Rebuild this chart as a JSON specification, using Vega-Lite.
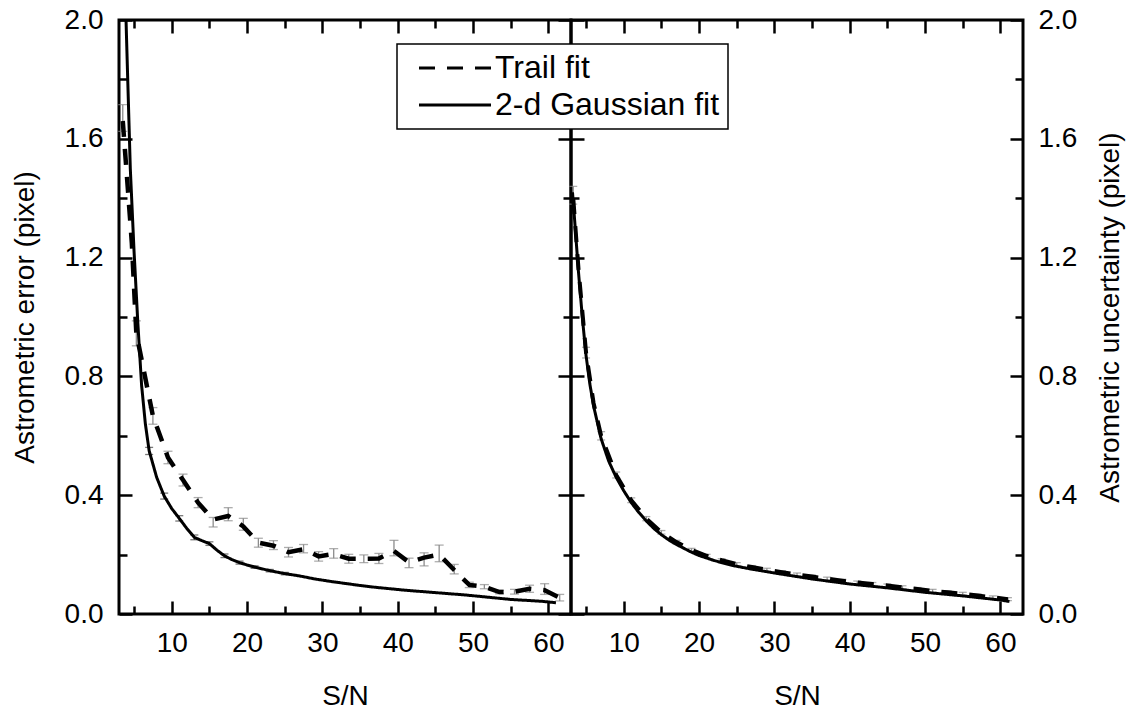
{
  "$schema": "https://vega.github.io/schema/vega-lite/v6.json",
  "padding": {"left": 9, "top": 4, "right": 5, "bottom": 5},
  "background": "white",
  "spacing": 0,
  "bounds": "flush",
  "datasets": {
    "lines": [
      {"p":"L","s":"2-d Gaussian fit","sn":3,"v":2.9},
      {"p":"L","s":"2-d Gaussian fit","sn":3.5,"v":2.4},
      {"p":"L","s":"2-d Gaussian fit","sn":4,"v":1.94},
      {"p":"L","s":"2-d Gaussian fit","sn":4.5,"v":1.5},
      {"p":"L","s":"2-d Gaussian fit","sn":5,"v":1.22},
      {"p":"L","s":"2-d Gaussian fit","sn":5.5,"v":0.98},
      {"p":"L","s":"2-d Gaussian fit","sn":6,"v":0.77},
      {"p":"L","s":"2-d Gaussian fit","sn":6.5,"v":0.64},
      {"p":"L","s":"2-d Gaussian fit","sn":7,"v":0.55},
      {"p":"L","s":"2-d Gaussian fit","sn":8,"v":0.46},
      {"p":"L","s":"2-d Gaussian fit","sn":9,"v":0.397},
      {"p":"L","s":"2-d Gaussian fit","sn":10,"v":0.355},
      {"p":"L","s":"2-d Gaussian fit","sn":11,"v":0.322},
      {"p":"L","s":"2-d Gaussian fit","sn":12,"v":0.288},
      {"p":"L","s":"2-d Gaussian fit","sn":13,"v":0.258},
      {"p":"L","s":"2-d Gaussian fit","sn":14,"v":0.247},
      {"p":"L","s":"2-d Gaussian fit","sn":15,"v":0.237},
      {"p":"L","s":"2-d Gaussian fit","sn":16,"v":0.215},
      {"p":"L","s":"2-d Gaussian fit","sn":17,"v":0.196},
      {"p":"L","s":"2-d Gaussian fit","sn":18,"v":0.183},
      {"p":"L","s":"2-d Gaussian fit","sn":19,"v":0.173},
      {"p":"L","s":"2-d Gaussian fit","sn":20,"v":0.165},
      {"p":"L","s":"2-d Gaussian fit","sn":21,"v":0.158},
      {"p":"L","s":"2-d Gaussian fit","sn":23,"v":0.146},
      {"p":"L","s":"2-d Gaussian fit","sn":25,"v":0.136},
      {"p":"L","s":"2-d Gaussian fit","sn":27,"v":0.128},
      {"p":"L","s":"2-d Gaussian fit","sn":29,"v":0.118},
      {"p":"L","s":"2-d Gaussian fit","sn":31,"v":0.11},
      {"p":"L","s":"2-d Gaussian fit","sn":33,"v":0.103},
      {"p":"L","s":"2-d Gaussian fit","sn":35,"v":0.096},
      {"p":"L","s":"2-d Gaussian fit","sn":37,"v":0.09},
      {"p":"L","s":"2-d Gaussian fit","sn":39,"v":0.085},
      {"p":"L","s":"2-d Gaussian fit","sn":41,"v":0.08},
      {"p":"L","s":"2-d Gaussian fit","sn":43,"v":0.076},
      {"p":"L","s":"2-d Gaussian fit","sn":45,"v":0.072},
      {"p":"L","s":"2-d Gaussian fit","sn":47,"v":0.068},
      {"p":"L","s":"2-d Gaussian fit","sn":49,"v":0.064},
      {"p":"L","s":"2-d Gaussian fit","sn":51,"v":0.059},
      {"p":"L","s":"2-d Gaussian fit","sn":53,"v":0.054},
      {"p":"L","s":"2-d Gaussian fit","sn":55,"v":0.049},
      {"p":"L","s":"2-d Gaussian fit","sn":57,"v":0.046},
      {"p":"L","s":"2-d Gaussian fit","sn":59,"v":0.043},
      {"p":"L","s":"2-d Gaussian fit","sn":61,"v":0.038},
      {"p":"L","s":"Trail fit","sn":3.5,"v":1.66},
      {"p":"L","s":"Trail fit","sn":4.15,"v":1.44},
      {"p":"L","s":"Trail fit","sn":4.7,"v":1.25},
      {"p":"L","s":"Trail fit","sn":5.3,"v":0.945},
      {"p":"L","s":"Trail fit","sn":7.5,"v":0.667},
      {"p":"L","s":"Trail fit","sn":9.5,"v":0.527},
      {"p":"L","s":"Trail fit","sn":11.5,"v":0.451},
      {"p":"L","s":"Trail fit","sn":13.5,"v":0.375},
      {"p":"L","s":"Trail fit","sn":15.5,"v":0.318},
      {"p":"L","s":"Trail fit","sn":17.5,"v":0.33},
      {"p":"L","s":"Trail fit","sn":19.5,"v":0.295},
      {"p":"L","s":"Trail fit","sn":21.5,"v":0.24},
      {"p":"L","s":"Trail fit","sn":23.5,"v":0.23},
      {"p":"L","s":"Trail fit","sn":25.5,"v":0.208},
      {"p":"L","s":"Trail fit","sn":27.5,"v":0.218},
      {"p":"L","s":"Trail fit","sn":29.5,"v":0.194},
      {"p":"L","s":"Trail fit","sn":31.5,"v":0.202},
      {"p":"L","s":"Trail fit","sn":33.5,"v":0.186},
      {"p":"L","s":"Trail fit","sn":35.5,"v":0.186},
      {"p":"L","s":"Trail fit","sn":37.5,"v":0.187},
      {"p":"L","s":"Trail fit","sn":39.5,"v":0.212},
      {"p":"L","s":"Trail fit","sn":41.5,"v":0.174},
      {"p":"L","s":"Trail fit","sn":43.5,"v":0.19},
      {"p":"L","s":"Trail fit","sn":45.5,"v":0.2},
      {"p":"L","s":"Trail fit","sn":47.5,"v":0.148},
      {"p":"L","s":"Trail fit","sn":49.5,"v":0.098},
      {"p":"L","s":"Trail fit","sn":51.5,"v":0.092},
      {"p":"L","s":"Trail fit","sn":53.5,"v":0.074},
      {"p":"L","s":"Trail fit","sn":55.5,"v":0.075},
      {"p":"L","s":"Trail fit","sn":57.5,"v":0.085},
      {"p":"L","s":"Trail fit","sn":59.5,"v":0.08},
      {"p":"L","s":"Trail fit","sn":61.5,"v":0.055},
      {"p":"R","s":"2-d Gaussian fit","sn":3.2,"v":1.42},
      {"p":"R","s":"2-d Gaussian fit","sn":3.5,"v":1.32},
      {"p":"R","s":"2-d Gaussian fit","sn":4,"v":1.15},
      {"p":"R","s":"2-d Gaussian fit","sn":4.5,"v":1.0},
      {"p":"R","s":"2-d Gaussian fit","sn":5,"v":0.87},
      {"p":"R","s":"2-d Gaussian fit","sn":5.5,"v":0.775},
      {"p":"R","s":"2-d Gaussian fit","sn":6,"v":0.7},
      {"p":"R","s":"2-d Gaussian fit","sn":7,"v":0.59},
      {"p":"R","s":"2-d Gaussian fit","sn":8,"v":0.515},
      {"p":"R","s":"2-d Gaussian fit","sn":9,"v":0.46},
      {"p":"R","s":"2-d Gaussian fit","sn":10,"v":0.415},
      {"p":"R","s":"2-d Gaussian fit","sn":11,"v":0.375},
      {"p":"R","s":"2-d Gaussian fit","sn":12,"v":0.342},
      {"p":"R","s":"2-d Gaussian fit","sn":13,"v":0.313},
      {"p":"R","s":"2-d Gaussian fit","sn":14,"v":0.288},
      {"p":"R","s":"2-d Gaussian fit","sn":15,"v":0.267},
      {"p":"R","s":"2-d Gaussian fit","sn":16,"v":0.249},
      {"p":"R","s":"2-d Gaussian fit","sn":17,"v":0.234},
      {"p":"R","s":"2-d Gaussian fit","sn":18,"v":0.221},
      {"p":"R","s":"2-d Gaussian fit","sn":19,"v":0.208},
      {"p":"R","s":"2-d Gaussian fit","sn":20,"v":0.197},
      {"p":"R","s":"2-d Gaussian fit","sn":22,"v":0.18},
      {"p":"R","s":"2-d Gaussian fit","sn":24.5,"v":0.163},
      {"p":"R","s":"2-d Gaussian fit","sn":27,"v":0.151},
      {"p":"R","s":"2-d Gaussian fit","sn":30,"v":0.138},
      {"p":"R","s":"2-d Gaussian fit","sn":35,"v":0.118},
      {"p":"R","s":"2-d Gaussian fit","sn":40,"v":0.101},
      {"p":"R","s":"2-d Gaussian fit","sn":45,"v":0.088},
      {"p":"R","s":"2-d Gaussian fit","sn":50,"v":0.073},
      {"p":"R","s":"2-d Gaussian fit","sn":55,"v":0.061},
      {"p":"R","s":"2-d Gaussian fit","sn":60,"v":0.047},
      {"p":"R","s":"2-d Gaussian fit","sn":61.2,"v":0.042},
      {"p":"R","s":"Trail fit","sn":3.3,"v":1.4},
      {"p":"R","s":"Trail fit","sn":4,"v":1.16},
      {"p":"R","s":"Trail fit","sn":5,"v":0.88},
      {"p":"R","s":"Trail fit","sn":6,"v":0.71},
      {"p":"R","s":"Trail fit","sn":7,"v":0.6},
      {"p":"R","s":"Trail fit","sn":9,"v":0.468},
      {"p":"R","s":"Trail fit","sn":11,"v":0.383},
      {"p":"R","s":"Trail fit","sn":13,"v":0.321},
      {"p":"R","s":"Trail fit","sn":15,"v":0.275},
      {"p":"R","s":"Trail fit","sn":17,"v":0.242},
      {"p":"R","s":"Trail fit","sn":19,"v":0.216},
      {"p":"R","s":"Trail fit","sn":21,"v":0.196},
      {"p":"R","s":"Trail fit","sn":23,"v":0.181},
      {"p":"R","s":"Trail fit","sn":25,"v":0.168},
      {"p":"R","s":"Trail fit","sn":27,"v":0.158},
      {"p":"R","s":"Trail fit","sn":29,"v":0.149},
      {"p":"R","s":"Trail fit","sn":31,"v":0.141},
      {"p":"R","s":"Trail fit","sn":33,"v":0.133},
      {"p":"R","s":"Trail fit","sn":35,"v":0.126},
      {"p":"R","s":"Trail fit","sn":37,"v":0.119},
      {"p":"R","s":"Trail fit","sn":39,"v":0.112},
      {"p":"R","s":"Trail fit","sn":41,"v":0.106},
      {"p":"R","s":"Trail fit","sn":43,"v":0.101},
      {"p":"R","s":"Trail fit","sn":45,"v":0.096},
      {"p":"R","s":"Trail fit","sn":47,"v":0.09},
      {"p":"R","s":"Trail fit","sn":49,"v":0.084},
      {"p":"R","s":"Trail fit","sn":51,"v":0.078},
      {"p":"R","s":"Trail fit","sn":53,"v":0.073},
      {"p":"R","s":"Trail fit","sn":55,"v":0.068},
      {"p":"R","s":"Trail fit","sn":57,"v":0.062},
      {"p":"R","s":"Trail fit","sn":59,"v":0.056},
      {"p":"R","s":"Trail fit","sn":61,"v":0.05}
    ],
    "errs": [
      {"p":"L","s":"Trail fit","sn":3.5,"lo":1.625,"hi":1.715},
      {"p":"L","s":"Trail fit","sn":5.3,"lo":0.903,"hi":0.987},
      {"p":"L","s":"Trail fit","sn":7.5,"lo":0.639,"hi":0.695},
      {"p":"L","s":"Trail fit","sn":9.5,"lo":0.506,"hi":0.548},
      {"p":"L","s":"Trail fit","sn":11.5,"lo":0.431,"hi":0.471},
      {"p":"L","s":"Trail fit","sn":13.5,"lo":0.358,"hi":0.392},
      {"p":"L","s":"Trail fit","sn":15.5,"lo":0.293,"hi":0.325},
      {"p":"L","s":"Trail fit","sn":17.5,"lo":0.314,"hi":0.358},
      {"p":"L","s":"Trail fit","sn":19.5,"lo":0.282,"hi":0.322},
      {"p":"L","s":"Trail fit","sn":21.5,"lo":0.225,"hi":0.255},
      {"p":"L","s":"Trail fit","sn":23.5,"lo":0.217,"hi":0.247},
      {"p":"L","s":"Trail fit","sn":25.5,"lo":0.192,"hi":0.224},
      {"p":"L","s":"Trail fit","sn":27.5,"lo":0.206,"hi":0.234},
      {"p":"L","s":"Trail fit","sn":29.5,"lo":0.178,"hi":0.21},
      {"p":"L","s":"Trail fit","sn":31.5,"lo":0.188,"hi":0.22},
      {"p":"L","s":"Trail fit","sn":33.5,"lo":0.171,"hi":0.201},
      {"p":"L","s":"Trail fit","sn":35.5,"lo":0.173,"hi":0.199},
      {"p":"L","s":"Trail fit","sn":37.5,"lo":0.17,"hi":0.204},
      {"p":"L","s":"Trail fit","sn":39.5,"lo":0.196,"hi":0.248},
      {"p":"L","s":"Trail fit","sn":41.5,"lo":0.156,"hi":0.188},
      {"p":"L","s":"Trail fit","sn":43.5,"lo":0.162,"hi":0.206},
      {"p":"L","s":"Trail fit","sn":45.5,"lo":0.176,"hi":0.232},
      {"p":"L","s":"Trail fit","sn":47.5,"lo":0.135,"hi":0.167},
      {"p":"L","s":"Trail fit","sn":49.5,"lo":0.089,"hi":0.107},
      {"p":"L","s":"Trail fit","sn":51.5,"lo":0.085,"hi":0.099},
      {"p":"L","s":"Trail fit","sn":53.5,"lo":0.068,"hi":0.08},
      {"p":"L","s":"Trail fit","sn":55.5,"lo":0.067,"hi":0.083},
      {"p":"L","s":"Trail fit","sn":57.5,"lo":0.073,"hi":0.097},
      {"p":"L","s":"Trail fit","sn":59.5,"lo":0.066,"hi":0.102},
      {"p":"L","s":"Trail fit","sn":61.5,"lo":0.044,"hi":0.066},
      {"p":"L","s":"2-d Gaussian fit","sn":7,"lo":0.537,"hi":0.561},
      {"p":"L","s":"2-d Gaussian fit","sn":9,"lo":0.387,"hi":0.407},
      {"p":"L","s":"2-d Gaussian fit","sn":11,"lo":0.313,"hi":0.331},
      {"p":"L","s":"2-d Gaussian fit","sn":13,"lo":0.25,"hi":0.266},
      {"p":"L","s":"2-d Gaussian fit","sn":15,"lo":0.231,"hi":0.243},
      {"p":"L","s":"2-d Gaussian fit","sn":17,"lo":0.19,"hi":0.202},
      {"p":"L","s":"2-d Gaussian fit","sn":19,"lo":0.168,"hi":0.178},
      {"p":"L","s":"2-d Gaussian fit","sn":21,"lo":0.154,"hi":0.162},
      {"p":"L","s":"2-d Gaussian fit","sn":23,"lo":0.142,"hi":0.15},
      {"p":"L","s":"2-d Gaussian fit","sn":25,"lo":0.132,"hi":0.14},
      {"p":"R","s":"Trail fit","sn":3.3,"lo":1.38,"hi":1.44},
      {"p":"R","s":"Trail fit","sn":5,"lo":0.862,"hi":0.898},
      {"p":"R","s":"Trail fit","sn":7,"lo":0.586,"hi":0.614},
      {"p":"R","s":"Trail fit","sn":9,"lo":0.458,"hi":0.478},
      {"p":"R","s":"Trail fit","sn":11,"lo":0.375,"hi":0.391},
      {"p":"R","s":"Trail fit","sn":13,"lo":0.314,"hi":0.328},
      {"p":"R","s":"Trail fit","sn":15,"lo":0.269,"hi":0.281},
      {"p":"R","s":"Trail fit","sn":17,"lo":0.236,"hi":0.248},
      {"p":"R","s":"Trail fit","sn":19,"lo":0.211,"hi":0.221},
      {"p":"R","s":"Trail fit","sn":21,"lo":0.191,"hi":0.201},
      {"p":"R","s":"Trail fit","sn":23,"lo":0.176,"hi":0.186},
      {"p":"R","s":"Trail fit","sn":25,"lo":0.163,"hi":0.173},
      {"p":"R","s":"Trail fit","sn":27,"lo":0.153,"hi":0.163},
      {"p":"R","s":"Trail fit","sn":29,"lo":0.144,"hi":0.154},
      {"p":"R","s":"Trail fit","sn":31,"lo":0.136,"hi":0.146},
      {"p":"R","s":"Trail fit","sn":33,"lo":0.128,"hi":0.138},
      {"p":"R","s":"Trail fit","sn":35,"lo":0.121,"hi":0.131},
      {"p":"R","s":"Trail fit","sn":37,"lo":0.114,"hi":0.124},
      {"p":"R","s":"Trail fit","sn":39,"lo":0.107,"hi":0.117},
      {"p":"R","s":"Trail fit","sn":41,"lo":0.101,"hi":0.111},
      {"p":"R","s":"Trail fit","sn":43,"lo":0.096,"hi":0.106},
      {"p":"R","s":"Trail fit","sn":45,"lo":0.091,"hi":0.101},
      {"p":"R","s":"Trail fit","sn":47,"lo":0.085,"hi":0.095},
      {"p":"R","s":"Trail fit","sn":49,"lo":0.079,"hi":0.089},
      {"p":"R","s":"Trail fit","sn":51,"lo":0.073,"hi":0.083},
      {"p":"R","s":"Trail fit","sn":53,"lo":0.068,"hi":0.078},
      {"p":"R","s":"Trail fit","sn":55,"lo":0.063,"hi":0.073},
      {"p":"R","s":"Trail fit","sn":57,"lo":0.057,"hi":0.067},
      {"p":"R","s":"Trail fit","sn":59,"lo":0.051,"hi":0.061},
      {"p":"R","s":"Trail fit","sn":61,"lo":0.045,"hi":0.055}
    ]
  },
  "hconcat": [
    {
      "width": 452,
      "height": 594,
      "resolve": {"axis": {"x": "independent", "y": "independent"}},
      "layer": [
        {
          "data": {"name": "errs"},
          "transform": [{"filter": "datum.p === 'L' && datum.s === 'Trail fit'"}],
          "mark": {"type": "errorbar", "ticks": {"size": 9, "color": "#8c8c8c", "thickness": 1.3}, "rule": {"color": "#8c8c8c", "strokeWidth": 1.3}},
          "encoding": {
            "x": {"field": "sn", "type": "quantitative", "scale": {"domain": [3, 63], "nice": false, "zero": false}, "axis": null},
            "y": {"field": "lo", "type": "quantitative", "scale": {"domain": [0, 2], "nice": false}, "axis": null},
            "y2": {"field": "hi"}
          }
        },
        {
          "data": {"name": "errs"},
          "transform": [{"filter": "datum.p === 'L' && datum.s === '2-d Gaussian fit'"}],
          "mark": {"type": "errorbar", "ticks": {"size": 8, "color": "#404040", "thickness": 1.3}, "rule": {"color": "#404040", "strokeWidth": 1.3}},
          "encoding": {
            "x": {"field": "sn", "type": "quantitative", "scale": {"domain": [3, 63], "nice": false, "zero": false}, "axis": null},
            "y": {"field": "lo", "type": "quantitative", "scale": {"domain": [0, 2], "nice": false}, "axis": null},
            "y2": {"field": "hi"}
          }
        },
        {
          "data": {"name": "errs"},
          "transform": [{"filter": "datum.p === 'L'"}],
          "mark": {"type": "point", "opacity": 0, "clip": true},
          "encoding": {
            "x": {"field": "sn", "type": "quantitative", "scale": {"domain": [3, 63], "nice": false, "zero": false},
                  "axis": {"orient": "bottom", "values": [5, 15, 25, 35, 45, 55], "labels": false, "tickSize": -8, "title": null}},
            "y": {"field": "lo", "type": "quantitative", "scale": {"domain": [0, 2], "nice": false},
                  "axis": {"orient": "left", "values": [0.2, 0.6, 1.0, 1.4, 1.8], "labels": false, "tickSize": -8, "title": null}}
          }
        },
        {
          "data": {"name": "errs"},
          "transform": [{"filter": "datum.p === 'L'"}],
          "mark": {"type": "point", "opacity": 0, "clip": true},
          "encoding": {
            "x": {"field": "sn", "type": "quantitative", "scale": {"domain": [3, 63], "nice": false, "zero": false},
                  "axis": {"orient": "top", "values": [10, 20, 30, 40, 50, 60], "labels": false, "tickSize": -13, "title": null}},
            "y": {"field": "lo", "type": "quantitative", "scale": {"domain": [0, 2], "nice": false},
                  "axis": {"orient": "right", "values": [0, 0.4, 0.8, 1.2, 1.6, 2.0], "labels": false, "tickSize": -13, "title": null}}
          }
        },
        {
          "data": {"name": "errs"},
          "transform": [{"filter": "datum.p === 'L'"}],
          "mark": {"type": "point", "opacity": 0, "clip": true},
          "encoding": {
            "x": {"field": "sn", "type": "quantitative", "scale": {"domain": [3, 63], "nice": false, "zero": false},
                  "axis": {"orient": "top", "values": [5, 15, 25, 35, 45, 55], "labels": false, "tickSize": -8, "title": null}},
            "y": {"field": "lo", "type": "quantitative", "scale": {"domain": [0, 2], "nice": false},
                  "axis": {"orient": "right", "values": [0.2, 0.6, 1.0, 1.4, 1.8], "labels": false, "tickSize": -8, "title": null}}
          }
        },
        {
          "data": {"name": "lines"},
          "transform": [{"filter": "datum.p === 'L' && datum.s === '2-d Gaussian fit'"}],
          "mark": {"type": "line", "color": "black", "strokeWidth": 3, "clip": true},
          "encoding": {
            "x": {"field": "sn", "type": "quantitative", "scale": {"domain": [3, 63], "nice": false, "zero": false},
                  "axis": {"orient": "bottom", "values": [10, 20, 30, 40, 50, 60], "ticks": false, "labelPadding": 15, "labelFlush": false, "labelOverlap": false, "title": "S/N", "titlePadding": 25}},
            "y": {"field": "v", "type": "quantitative", "scale": {"domain": [0, 2], "nice": false},
                  "axis": {"orient": "left", "values": [0, 0.4, 0.8, 1.2, 1.6, 2.0], "format": ".1f", "ticks": false, "labelPadding": 16, "labelFlush": false, "labelOverlap": false, "title": "Astrometric error (pixel)", "titlePadding": 25}},
            "strokeDash": {"field": "s", "type": "nominal",
                  "scale": {"domain": ["Trail fit", "2-d Gaussian fit"], "range": [[16, 12], [1, 0]]},
                  "legend": {"title": null, "orient": "none", "legendX": 278, "legendY": 24, "symbolType": "M-3,0H3", "symbolSize": 576, "symbolOffset": 34, "symbolStrokeWidth": 3, "symbolStrokeColor": "black", "labelFont": "Liberation Sans", "labelFontSize": 32, "labelColor": "black", "labelOffset": 24, "labelLimit": 500, "fillColor": "white", "strokeColor": "black", "padding": 8, "rowPadding": 5, "zindex": 2}}
          }
        },
        {
          "data": {"name": "lines"},
          "transform": [{"filter": "datum.p === 'L' && datum.s === 'Trail fit'"}],
          "mark": {"type": "line", "color": "black", "strokeWidth": 4.5, "clip": true},
          "encoding": {
            "x": {"field": "sn", "type": "quantitative", "scale": {"domain": [3, 63], "nice": false, "zero": false},
                  "axis": {"orient": "bottom", "values": [10, 20, 30, 40, 50, 60], "labels": false, "tickSize": -13, "title": null}},
            "y": {"field": "v", "type": "quantitative", "scale": {"domain": [0, 2], "nice": false},
                  "axis": {"orient": "left", "values": [0, 0.4, 0.8, 1.2, 1.6, 2.0], "labels": false, "tickSize": -13, "title": null}},
            "strokeDash": {"field": "s", "type": "nominal", "scale": {"domain": ["Trail fit", "2-d Gaussian fit"], "range": [[16, 12], [1, 0]]}}
          }
        }
      ]
    },
    {
      "width": 452,
      "height": 594,
      "resolve": {"axis": {"x": "independent", "y": "independent"}},
      "layer": [
        {
          "data": {"name": "errs"},
          "transform": [{"filter": "datum.p === 'R'"}],
          "mark": {"type": "errorbar", "ticks": {"size": 8, "color": "#8c8c8c", "thickness": 1.3}, "rule": {"color": "#8c8c8c", "strokeWidth": 1.3}},
          "encoding": {
            "x": {"field": "sn", "type": "quantitative", "scale": {"domain": [3, 63], "nice": false, "zero": false}, "axis": null},
            "y": {"field": "lo", "type": "quantitative", "scale": {"domain": [0, 2], "nice": false}, "axis": null},
            "y2": {"field": "hi"}
          }
        },
        {
          "data": {"name": "errs"},
          "transform": [{"filter": "datum.p === 'R'"}],
          "mark": {"type": "point", "opacity": 0, "clip": true},
          "encoding": {
            "x": {"field": "sn", "type": "quantitative", "scale": {"domain": [3, 63], "nice": false, "zero": false},
                  "axis": {"orient": "bottom", "values": [5, 15, 25, 35, 45, 55], "labels": false, "tickSize": -8, "title": null}},
            "y": {"field": "lo", "type": "quantitative", "scale": {"domain": [0, 2], "nice": false},
                  "axis": {"orient": "left", "values": [0.2, 0.6, 1.0, 1.4, 1.8], "labels": false, "tickSize": -8, "title": null}}
          }
        },
        {
          "data": {"name": "errs"},
          "transform": [{"filter": "datum.p === 'R'"}],
          "mark": {"type": "point", "opacity": 0, "clip": true},
          "encoding": {
            "x": {"field": "sn", "type": "quantitative", "scale": {"domain": [3, 63], "nice": false, "zero": false},
                  "axis": {"orient": "top", "values": [10, 20, 30, 40, 50, 60], "labels": false, "tickSize": -13, "title": null}},
            "y": {"field": "lo", "type": "quantitative", "scale": {"domain": [0, 2], "nice": false},
                  "axis": {"orient": "right", "values": [0, 0.4, 0.8, 1.2, 1.6, 2.0], "labels": false, "tickSize": -13, "title": null}}
          }
        },
        {
          "data": {"name": "errs"},
          "transform": [{"filter": "datum.p === 'R'"}],
          "mark": {"type": "point", "opacity": 0, "clip": true},
          "encoding": {
            "x": {"field": "sn", "type": "quantitative", "scale": {"domain": [3, 63], "nice": false, "zero": false},
                  "axis": {"orient": "top", "values": [5, 15, 25, 35, 45, 55], "labels": false, "tickSize": -8, "title": null}},
            "y": {"field": "lo", "type": "quantitative", "scale": {"domain": [0, 2], "nice": false},
                  "axis": {"orient": "right", "values": [0.2, 0.6, 1.0, 1.4, 1.8], "labels": false, "tickSize": -8, "title": null}}
          }
        },
        {
          "data": {"name": "lines"},
          "transform": [{"filter": "datum.p === 'R' && datum.s === '2-d Gaussian fit'"}],
          "mark": {"type": "line", "color": "black", "strokeWidth": 3, "clip": true},
          "encoding": {
            "x": {"field": "sn", "type": "quantitative", "scale": {"domain": [3, 63], "nice": false, "zero": false},
                  "axis": {"orient": "bottom", "values": [10, 20, 30, 40, 50, 60], "ticks": false, "labelPadding": 15, "labelFlush": false, "labelOverlap": false, "title": "S/N", "titlePadding": 25}},
            "y": {"field": "v", "type": "quantitative", "scale": {"domain": [0, 2], "nice": false},
                  "axis": {"orient": "right", "values": [0, 0.4, 0.8, 1.2, 1.6, 2.0], "format": ".1f", "ticks": false, "labelPadding": 15, "labelFlush": false, "labelOverlap": false, "title": "Astrometric uncertainty (pixel)", "titlePadding": 20, "titleAngle": -90, "titleBaseline": "top"}},
            "strokeDash": {"field": "s", "type": "nominal", "scale": {"domain": ["Trail fit", "2-d Gaussian fit"], "range": [[16, 12], [1, 0]]}}
          }
        },
        {
          "data": {"name": "lines"},
          "transform": [{"filter": "datum.p === 'R' && datum.s === 'Trail fit'"}],
          "mark": {"type": "line", "color": "black", "strokeWidth": 4, "clip": true},
          "encoding": {
            "x": {"field": "sn", "type": "quantitative", "scale": {"domain": [3, 63], "nice": false, "zero": false},
                  "axis": {"orient": "bottom", "values": [10, 20, 30, 40, 50, 60], "labels": false, "tickSize": -13, "title": null}},
            "y": {"field": "v", "type": "quantitative", "scale": {"domain": [0, 2], "nice": false},
                  "axis": {"orient": "left", "values": [0, 0.4, 0.8, 1.2, 1.6, 2.0], "labels": false, "tickSize": -13, "title": null}},
            "strokeDash": {"field": "s", "type": "nominal", "scale": {"domain": ["Trail fit", "2-d Gaussian fit"], "range": [[16, 12], [1, 0]]}}
          }
        }
      ]
    }
  ],
  "config": {
    "view": {"stroke": "black", "strokeWidth": 3},
    "font": "Liberation Sans",
    "axis": {
      "labelFont": "Liberation Sans",
      "titleFont": "Liberation Sans",
      "labelFontSize": 28,
      "titleFontSize": 28,
      "titleFontWeight": "normal",
      "labelColor": "black",
      "titleColor": "black",
      "tickColor": "black",
      "tickWidth": 2.5,
      "domain": false,
      "grid": false
    },
    "legend": {"strokeWidth": 1.5}
  }
}
